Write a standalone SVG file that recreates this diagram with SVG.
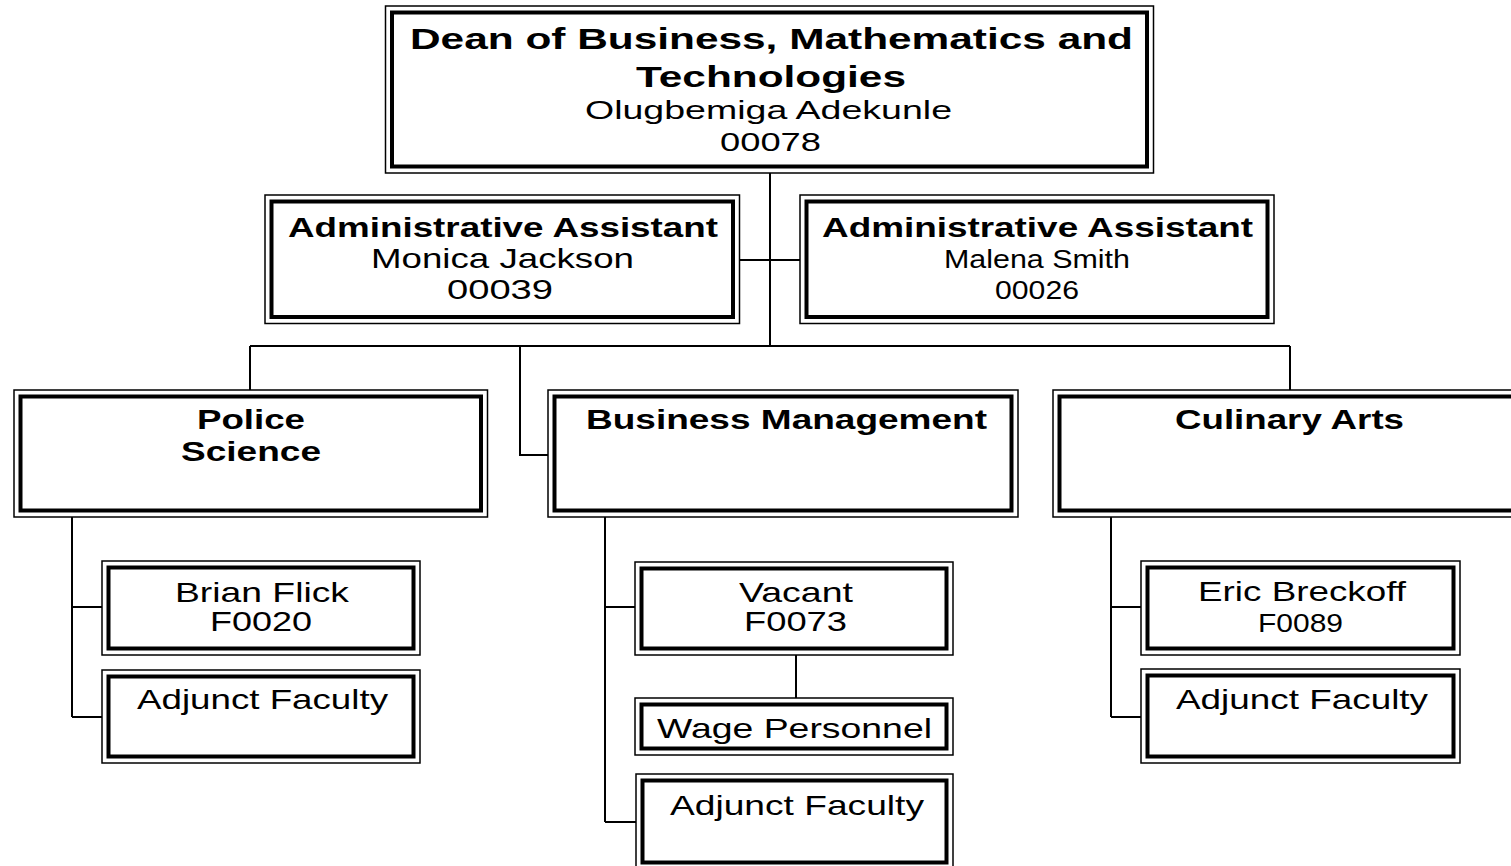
<svg xmlns="http://www.w3.org/2000/svg" width="1511" height="866" viewBox="0 0 1511 866">
<style>
.o{fill:#fff;stroke:#000;stroke-width:1.5}
.i{fill:none;stroke:#000;stroke-width:4}
.c{fill:none;stroke:#000;stroke-width:2}
text{font-family:"Liberation Sans",Arial,sans-serif;fill:#000;text-anchor:middle}
.b{font-weight:bold;font-size:28px}
.d{font-weight:bold;font-size:30px}
.r{font-size:28px}
.s{font-size:25px}
</style>
<rect width="1511" height="866" fill="#fff"/>
<g id="connectors">
<path class="c" d="M770 173V346M740 260H800M250 346H1290M250 346V390M1290 346V390M520 346V455H548"/>
<path class="c" d="M72 517V717M72 607H102M72 717H102"/>
<path class="c" d="M605 517V822M605 607H635M605 822H637M796 655V698"/>
<path class="c" d="M1111 517V717M1111 607H1141M1111 717H1141"/>
</g>
<g id="dean">
<rect class="o" x="385.5" y="6" width="768" height="167"/>
<rect class="i" x="392" y="12.5" width="755" height="154"/>
<text class="d" x="771.5" y="49" textLength="723" lengthAdjust="spacingAndGlyphs">Dean of Business, Mathematics and</text>
<text class="d" x="771" y="87" textLength="270" lengthAdjust="spacingAndGlyphs">Technologies</text>
<text class="s" x="768.5" y="119" textLength="367" lengthAdjust="spacingAndGlyphs">Olugbemiga Adekunle</text>
<text class="s" x="770.5" y="151" textLength="101" lengthAdjust="spacingAndGlyphs">00078</text>
</g>
<g id="admin1">
<rect class="o" x="265" y="195" width="474.5" height="128.5"/>
<rect class="i" x="271.5" y="201.5" width="461.5" height="115.5"/>
<text class="b" x="503" y="237" textLength="430" lengthAdjust="spacingAndGlyphs">Administrative Assistant</text>
<text class="r" x="502.5" y="268" textLength="263" lengthAdjust="spacingAndGlyphs">Monica Jackson</text>
<text class="r" x="500" y="299" textLength="106" lengthAdjust="spacingAndGlyphs">00039</text>
</g>
<g id="admin2">
<rect class="o" x="800" y="195" width="474" height="128.5"/>
<rect class="i" x="806.5" y="201.5" width="461" height="115.5"/>
<text class="b" x="1037.5" y="237" textLength="431" lengthAdjust="spacingAndGlyphs">Administrative Assistant</text>
<text class="s" x="1037" y="268" textLength="186" lengthAdjust="spacingAndGlyphs">Malena Smith</text>
<text class="s" x="1037" y="299" textLength="84" lengthAdjust="spacingAndGlyphs">00026</text>
</g>
<g id="police">
<rect class="o" x="14" y="390" width="473.5" height="127"/>
<rect class="i" x="20.5" y="396.5" width="460.5" height="114"/>
<text class="b" x="251" y="429" textLength="108" lengthAdjust="spacingAndGlyphs">Police</text>
<text class="b" x="251" y="461" textLength="140" lengthAdjust="spacingAndGlyphs">Science</text>
</g>
<g id="business">
<rect class="o" x="548" y="390" width="470" height="127"/>
<rect class="i" x="554.5" y="396.5" width="457" height="114"/>
<text class="b" x="786.5" y="429" textLength="401" lengthAdjust="spacingAndGlyphs">Business Management</text>
</g>
<g id="culinary">
<rect class="o" x="1053" y="390" width="480" height="127"/>
<rect class="i" x="1059.5" y="396.5" width="467" height="114"/>
<text class="b" x="1289.5" y="429" textLength="229" lengthAdjust="spacingAndGlyphs">Culinary Arts</text>
</g>
<g id="brian">
<rect class="o" x="102" y="561" width="318" height="94"/>
<rect class="i" x="108.5" y="567.5" width="305" height="81"/>
<text class="r" x="262" y="602" textLength="174" lengthAdjust="spacingAndGlyphs">Brian Flick</text>
<text class="r" x="261" y="631" textLength="102" lengthAdjust="spacingAndGlyphs">F0020</text>
</g>
<g id="adjunct-police">
<rect class="o" x="102" y="670" width="318" height="93"/>
<rect class="i" x="108.5" y="676.5" width="305" height="80"/>
<text class="r" x="262.5" y="709" textLength="251" lengthAdjust="spacingAndGlyphs">Adjunct Faculty</text>
</g>
<g id="vacant">
<rect class="o" x="635" y="562" width="318" height="93"/>
<rect class="i" x="641.5" y="568.5" width="305" height="80"/>
<text class="r" x="796" y="602" textLength="114" lengthAdjust="spacingAndGlyphs">Vacant</text>
<text class="r" x="795.5" y="631" textLength="103" lengthAdjust="spacingAndGlyphs">F0073</text>
</g>
<g id="wage">
<rect class="o" x="635" y="698" width="318" height="57"/>
<rect class="i" x="641.5" y="704.5" width="305" height="44"/>
<text class="r" x="794.5" y="738" textLength="275" lengthAdjust="spacingAndGlyphs">Wage Personnel</text>
</g>
<g id="adjunct-business">
<rect class="o" x="636" y="774" width="317" height="93"/>
<rect class="i" x="642.5" y="780.5" width="304" height="82"/>
<text class="r" x="797" y="815" textLength="254" lengthAdjust="spacingAndGlyphs">Adjunct Faculty</text>
</g>
<g id="eric">
<rect class="o" x="1141" y="561" width="319" height="94"/>
<rect class="i" x="1147.5" y="567.5" width="306" height="81"/>
<text class="r" x="1302" y="601" textLength="208" lengthAdjust="spacingAndGlyphs">Eric Breckoff</text>
<text class="s" x="1300.5" y="632" textLength="85" lengthAdjust="spacingAndGlyphs">F0089</text>
</g>
<g id="adjunct-culinary">
<rect class="o" x="1141" y="669" width="319" height="94"/>
<rect class="i" x="1147.5" y="675.5" width="306" height="81"/>
<text class="r" x="1302" y="709" textLength="252" lengthAdjust="spacingAndGlyphs">Adjunct Faculty</text>
</g>
</svg>
